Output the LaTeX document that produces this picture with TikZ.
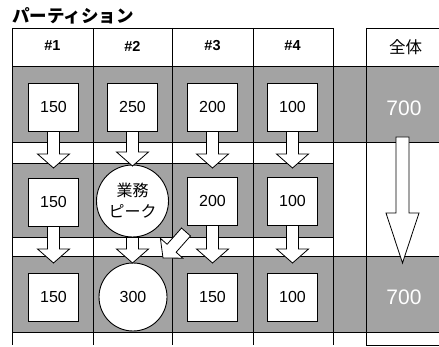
\documentclass[tikz,border=0pt]{standalone}
\usepackage{fontspec}
\setmainfont{Liberation Sans}
\newfontfamily\jp{Noto Sans CJK JP}
\usetikzlibrary{calc}
\tikzset{
  band/.style={fill=black!36, draw=black, line width=0.8pt},
  grid/.style={draw=black, line width=0.8pt},
  valbox/.style={draw=black, fill=white, line width=0.9pt, minimum width=50pt, minimum height=48pt, inner sep=0pt, font=\fontsize{16}{18}\selectfont},
  valcirc/.style={circle, draw=black, fill=white, line width=0.9pt, inner sep=0pt},
  head/.style={font=\bfseries\fontsize{14.5}{16}\selectfont},
  total/.style={text=white, font=\fontsize{21}{23}\selectfont},
  arrowshape/.style={draw=black, fill=white, line width=0.8pt, line join=miter},
}
% #1 shaft half width, #2 head half width, #3 head length, #4 from, #5 to
\newcommand\blockarr[5]{%
  \draw[arrowshape] let \p1=(#4), \p2=(#5),
    \n1={atan2(\y2-\y1,\x2-\x1)}, \n2={veclen(\x2-\x1,\y2-\y1)} in
    [shift={(\p1)}, rotate=\n1]
    (0,-#1) -- (\n2-#3,-#1) -- (\n2-#3,-#2) -- (\n2,0) -- (\n2-#3,#2) -- (\n2-#3,#1) -- (0,#1) -- cycle;}
\begin{document}
\begin{tikzpicture}[x=1pt, y=-1pt]
\useasboundingbox (0,0) rectangle (439,347);
\clip (0,0) rectangle (439,347);
% title
\node[anchor=west, inner sep=0pt, font=\jp\bfseries\fontsize{17.5}{19}\selectfont] (title) at (12,16) {パーティション};
% bands
\path[band] (12,66) rectangle (450,142);
\path[band] (12,163) rectangle (333,237);
\path[band] (12,256) rectangle (450,332);
% grid
\draw[grid] (12,28) -- (333,28);
\draw[grid] (366,28) -- (450,28);
\draw[grid] (366,345) -- (450,345);
\foreach \x in {12,93,172,253,333,366} \draw[grid] (\x,28) -- (\x,345);
% headers
\node[head] (h1) at (52.5,46) {\#1};
\node[head] (h2) at (132.5,46) {\#2};
\node[head] (h3) at (212.5,46) {\#3};
\node[head] (h4) at (292.5,46) {\#4};
\node[font=\jp\fontsize{16.5}{18}\selectfont] (hall) at (405.5,47) {全体};
% row 1
\node[valbox] (r1c1) at (53.5,107) {150};
\node[valbox] (r1c2) at (132.5,107) {250};
\node[valbox] (r1c3) at (212.5,107) {200};
\node[valbox] (r1c4) at (292.5,107) {100};
% row 2
\node[valbox] (r2c1) at (53.5,202) {150};
\node[valcirc, minimum size=72pt, align=center, font=\jp\fontsize{16}{21}\selectfont] (peak) at (132.5,201) {業務\\ピーク};
\node[valbox] (r2c3) at (212.5,201) {200};
\node[valbox] (r2c4) at (292.5,201) {100};
% row 3
\node[valbox] (r3c1) at (53.5,297) {150};
\node[valcirc, minimum size=68pt, font=\fontsize{16}{18}\selectfont] (big) at (133,297) {300};
\node[valbox] (r3c3) at (212.5,297) {150};
\node[valbox] (r3c4) at (292.5,297) {100};
% totals
\node[total] (t1) at (404,108) {700};
\node[total] (t3) at (404,297) {700};
% arrow end points
\coordinate (e1) at (53.5,168);
\coordinate (e2) at (132.5,166);
\coordinate (e3) at (212.5,168);
\coordinate (e4) at (292.5,168);
\coordinate (f1) at (53.5,263);
\coordinate (f2) at (132.5,263);
\coordinate (f3) at (212.5,263);
\coordinate (f4) at (292.5,263);
\coordinate (dstart) at (186,232);
\coordinate (dtip) at (163,258);
\coordinate (bstart) at (402.5,137);
\coordinate (btip) at (402.5,263);
% arrows
\blockarr{6}{16}{14}{r1c1.south}{e1}
\blockarr{6}{16}{14}{r1c2.south}{e2}
\blockarr{6}{16}{14}{r1c3.south}{e3}
\blockarr{6}{16}{14}{r1c4.south}{e4}
\blockarr{6}{16}{14}{r2c1.south}{f1}
\blockarr{6}{16}{14}{peak.south}{f2}
\blockarr{6}{16}{14}{r2c3.south}{f3}
\blockarr{6}{16}{14}{r2c4.south}{f4}
\blockarr{6}{15}{13}{dstart}{dtip}
\blockarr{6.5}{16.5}{50}{bstart}{btip}
\end{tikzpicture}
\end{document}
